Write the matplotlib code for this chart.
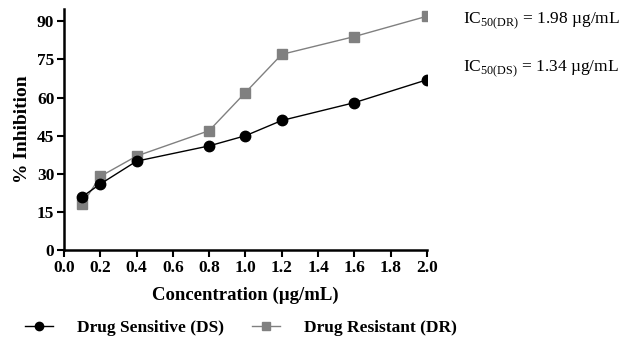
import matplotlib.pyplot as plt
from matplotlib.lines import Line2D

# concentrations (ug/mL) and % inhibition
conc = [0.1, 0.2, 0.4, 0.8, 1.0, 1.2, 1.6, 2.0]
ds_inhib = [21, 26, 35, 41, 45, 51, 58, 67]
dr_inhib = [18, 29, 37, 47, 62, 77, 84, 92]
xticks = [0.0, 0.2, 0.4, 0.6, 0.8, 1.0, 1.2, 1.4, 1.6, 1.8, 2.0]
yticks = [0, 15, 30, 45, 60, 75, 90]

plt.rcParams['font.family'] = ['Liberation Serif', 'DejaVu Serif']
plt.rcParams['mathtext.fontset'] = 'custom'
plt.rcParams['mathtext.rm'] = 'Liberation Serif'

fig = plt.figure(figsize=(6.3, 3.45), dpi=100)
ax = fig.add_axes([0.1016, 0.275, 0.576, 0.70])

ax.plot(conc, dr_inhib, color='#808080', lw=1.0, marker='s', ms=7,
        label='Drug Resistant (DR)')
ax.plot(conc, ds_inhib, color='black', lw=1.0, marker='o', ms=7.5,
        label='Drug Sensitive (DS)')

ax.set_xlim(0, 2.0)
ax.set_ylim(0, 95)
ax.set_xticks(xticks)
ax.set_xticklabels(['%.1f' % t for t in xticks])
ax.set_yticks(yticks)
for s in ['top', 'right']:
    ax.spines[s].set_visible(False)
for s in ['left', 'bottom']:
    ax.spines[s].set_linewidth(1.8)
ax.tick_params(width=1.5, length=5, labelsize=12.5, pad=2)
for lab in ax.get_xticklabels() + ax.get_yticklabels():
    lab.set_fontweight('bold')

ax.set_xlabel('Concentration (µg/mL)', fontsize=13.5, fontweight='bold', labelpad=8)
ax.set_ylabel('% Inhibition', fontsize=14, fontweight='bold', labelpad=4)

fig.text(0.735, 0.94, r'IC$_{\mathrm{50(DR)}}$ = 1.98 µg/mL', fontsize=12.5, va='center')
fig.text(0.735, 0.80, r'IC$_{\mathrm{50(DS)}}$ = 1.34 µg/mL', fontsize=12.5, va='center')

handles = [Line2D([], [], color='black', lw=1.0, marker='o', ms=6),
           Line2D([], [], color='#808080', lw=1.0, marker='s', ms=6)]
fig.legend(handles, ['Drug Sensitive (DS)', 'Drug Resistant (DR)'],
           loc='center left', bbox_to_anchor=(0.015, 0.05), ncol=2, frameon=False,
           prop={'weight': 'bold', 'size': 12.5}, handlelength=1.6,
           handletextpad=1.4, columnspacing=1.6)

fig.savefig('out.png', dpi=100)
